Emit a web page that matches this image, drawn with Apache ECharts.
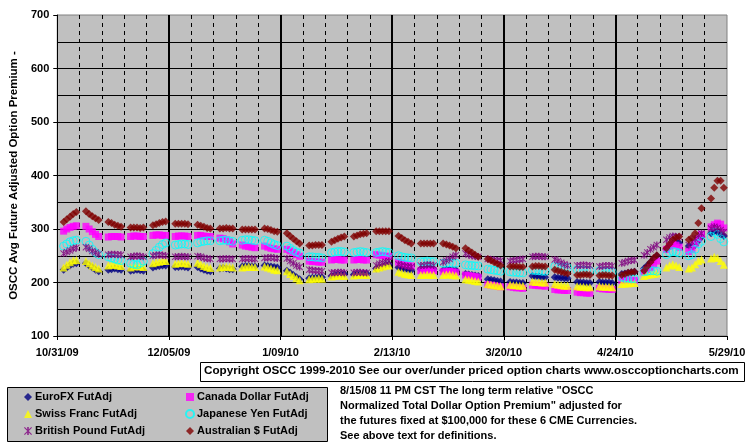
<!DOCTYPE html>
<html>
<head>
<meta charset="utf-8">
<script src="https://cdn.jsdelivr.net/npm/echarts@6/dist/echarts.min.js"></script>
<style>
  html, body { margin: 0; padding: 0; background: #fff; }
  #chart { width: 755px; height: 446px; }
</style>
</head>
<body>
<div id="chart"></div>
<script>
// x axis: days counted from 10/31/09, one label every 5 weeks
const startDate = '10/31/09'
const xTickLabels = ['10/31/09', '12/05/09', '1/09/10', '2/13/10', '3/20/10', '4/24/10', '5/29/10']
const weekCount = 30

// daily values, Mon..Fri of each week (30 weeks)
const euroFx = [
  224, 228, 232, 235, 236,  236, 232, 228, 224, 221,  224, 225, 226, 225, 224,  222, 223, 224, 223, 222,
  228, 230, 231, 232, 232,  229, 229, 230, 229, 228,  229, 226, 224, 222, 221,  226, 227, 226, 225, 225,
  230, 231, 231, 230, 230,  232, 231, 230, 229, 228,  222, 218, 214, 210, 206,  208, 209, 209, 210, 210,
  212, 214, 215, 215, 216,  215, 216, 216, 217, 217,  226, 228, 230, 233, 234,  228, 226, 225, 224, 223,
  225, 225, 226, 226, 225,  223, 224, 224, 223, 223,  216, 215, 214, 213, 212,  206, 205, 204, 203, 202,
  201, 200, 200, 199, 199,  212, 211, 211, 210, 210,  210, 209, 209, 208, 208,  201, 200, 200, 199, 199,
  201, 200, 200, 200, 199,  216, 217, 218, 219, 220,  226, 232, 238, 244, 250,  262, 268, 272, 276, 274,
  268, 266, 270, 278, 285,  292, 296, 295, 290, 287
]
const canadaDollar = [
  296, 300, 303, 305, 306,  305, 300, 295, 290, 286,  285, 286, 286, 286, 285,  286, 287, 287, 286, 286,
  288, 289, 289, 288, 288,  286, 287, 287, 287, 286,  288, 288, 287, 286, 286,  283, 282, 280, 276, 272,
  270, 268, 267, 266, 265,  268, 266, 264, 263, 262,  262, 259, 256, 252, 249,  240, 239, 239, 238, 238,
  242, 243, 243, 242, 242,  242, 243, 243, 242, 242,  252, 251, 250, 249, 249,  238, 236, 234, 232, 231,
  222, 222, 223, 222, 222,  220, 220, 221, 220, 219,  214, 213, 212, 211, 210,  196, 195, 194, 193, 192,
  192, 191, 190, 190, 189,  195, 195, 194, 194, 193,  187, 186, 186, 185, 185,  182, 181, 181, 180, 180,
  189, 188, 188, 187, 187,  204, 205, 205, 204, 204,  220, 224, 228, 234, 240,  262, 268, 272, 270, 266,
  258, 262, 272, 282, 290,  304, 308, 311, 309, 302
]
const swissFranc = [
  228, 233, 238, 241, 242,  240, 236, 232, 229, 226,  232, 233, 233, 232, 231,  228, 230, 231, 230, 229,
  236, 238, 239, 240, 240,  235, 236, 237, 236, 235,  237, 234, 231, 229, 227,  228, 229, 230, 229, 228,
  228, 229, 230, 229, 229,  230, 228, 226, 224, 223,  221, 216, 212, 208, 204,  206, 207, 207, 208, 207,
  211, 212, 213, 213, 212,  213, 214, 215, 214, 214,  226, 228, 230, 232, 232,  220, 218, 216, 215, 214,
  214, 214, 215, 214, 214,  214, 215, 215, 214, 213,  206, 205, 204, 203, 202,  197, 196, 195, 194, 193,
  196, 195, 195, 194, 194,  202, 201, 201, 200, 200,  197, 196, 195, 194, 194,  193, 192, 192, 191, 191,
  193, 192, 192, 192, 191,  197, 198, 198, 199, 199,  212, 214, 215, 216, 217,  228, 232, 234, 232, 229,
  226, 228, 234, 240, 243,  245, 248, 246, 240, 233
]
const japaneseYen = [
  268, 272, 276, 278, 279,  277, 270, 262, 256, 252,  248, 246, 244, 242, 241,  236, 234, 233, 236, 240,
  254, 260, 266, 271, 274,  270, 271, 272, 272, 271,  274, 276, 277, 278, 278,  278, 279, 279, 278, 277,
  279, 280, 280, 279, 278,  279, 277, 274, 271, 269,  268, 264, 260, 257, 255,  248, 248, 247, 247, 246,
  256, 257, 258, 258, 257,  256, 257, 258, 257, 256,  256, 257, 258, 257, 256,  250, 248, 247, 246, 246,
  239, 239, 240, 239, 239,  236, 236, 237, 236, 236,  233, 232, 232, 231, 231,  225, 224, 223, 222, 221,
  220, 219, 219, 218, 218,  223, 222, 222, 221, 221,  230, 229, 229, 228, 228,  224, 223, 223, 222, 222,
  222, 221, 221, 220, 220,  210, 208, 208, 207, 207,  220, 221, 222, 222, 221,  252, 256, 258, 257, 255,
  250, 252, 262, 272, 277,  286, 294, 290, 282, 276
]
const britishPound = [
  254, 257, 260, 263, 265,  266, 263, 259, 256, 253,  252, 253, 253, 252, 252,  248, 249, 250, 249, 248,
  250, 251, 252, 251, 250,  248, 248, 249, 248, 248,  249, 248, 246, 245, 244,  244, 244, 245, 244, 244,
  244, 245, 245, 244, 244,  246, 246, 247, 246, 245,  245, 240, 236, 232, 229,  224, 223, 222, 222, 221,
  218, 218, 219, 219, 218,  218, 219, 219, 218, 218,  232, 235, 237, 239, 240,  234, 232, 231, 230, 229,
  232, 232, 233, 233, 232,  238, 241, 244, 248, 251,  254, 252, 250, 249, 248,  244, 243, 242, 241, 241,
  240, 241, 242, 243, 244,  248, 249, 249, 248, 248,  243, 240, 237, 234, 232,  232, 232, 233, 232, 232,
  230, 231, 232, 232, 231,  236, 238, 240, 241, 242,  251, 256, 262, 266, 270,  280, 284, 287, 286, 285,
  270, 276, 282, 288, 292,  301, 304, 302, 298, 294
]
const australianDollar = [
  313, 318, 323, 328, 332,  333, 328, 324, 320, 317,  313, 311, 308, 306, 304,  303, 303, 303, 302, 303,
  307, 309, 311, 313, 314,  310, 310, 310, 310, 309,  308, 306, 304, 302, 301,  301, 301, 302, 301, 301,
  299, 299, 299, 299, 299,  301, 300, 298, 296, 295,  292, 287, 282, 277, 273,  269, 269, 270, 270, 270,
  276, 279, 282, 284, 286,  286, 288, 290, 291, 292,  296, 296, 296, 296, 296,  287, 283, 279, 276, 273,
  273, 273, 273, 273, 273,  273, 271, 269, 267, 264,  264, 260, 256, 252, 248,  244, 241, 238, 235, 232,
  230, 230, 230, 229, 229,  230, 231, 231, 230, 230,  224, 222, 220, 218, 217,  214, 214, 215, 215, 214,
  213, 214, 214, 213, 213,  214, 216, 218, 219, 220,  222, 230, 238, 246, 251,  264, 272, 280, 284, 286,
  280, 284, 292, 311, 339,  357, 377, 390, 390, 377
]

// weekday offsets (days after startDate): Mon..Fri of every week
const dayOffsets = []
for (let w = 0; w < weekCount; w++) {
  for (let d = 2; d <= 6; d++) {
    dayOffsets.push(w * 7 + d)
  }
}
function points(values) {
  return values.map((v, i) => [dayOffsets[i], v])
}

// asterisk marker for the British Pound series
const starPath = 'path://M4,0L6,0L6,10L4,10Z M0,1L1,0L10,9L9,10Z M9,0L10,1L1,10L0,9Z'

const seriesList = [
  {name: 'EuroFX FutAdj', data: euroFx, symbol: 'diamond', size: 8, color: '#000080'},
  {name: 'Canada Dollar FutAdj', data: canadaDollar, symbol: 'rect', size: 7, color: '#FF00FF'},
  {name: 'Swiss Franc FutAdj', data: swissFranc, symbol: 'triangle', size: 8, color: '#FFFF00'},
  {name: 'Japanese Yen FutAdj', data: japaneseYen, symbol: 'circle', size: 8, color: '#00FFFF', hollow: true},
  {name: 'British Pound FutAdj', data: britishPound, symbol: starPath, size: 7, color: '#800080'},
  {name: 'Australian $ FutAdj', data: australianDollar, symbol: 'diamond', size: 8, color: '#800000'}
]

const boldText = {
  color: '#000',
  fontFamily: 'Arial, "Liberation Sans", sans-serif',
  fontWeight: 'bold',
  fontSize: 11
}

const option = {
  animation: false,
  grid: {
    left: 50,
    top: 15,
    right: 28,
    bottom: 110,
    show: true,
    backgroundColor: '#C0C0C0',
    borderColor: '#808080',
    borderWidth: 1
  },
  xAxis: {
    type: 'value',
    min: 0,
    max: 210,
    interval: 35,
    axisLine: {show: true, lineStyle: {color: '#000', width: 1}},
    axisTick: {show: true, length: 4, lineStyle: {color: '#000'}},
    axisLabel: Object.assign({
      margin: 11,
      formatter: (v) => xTickLabels[Math.round(v / 35)]
    }, boldText),
    splitLine: {show: true, showMinLine: false, showMaxLine: false, lineStyle: {color: '#000', width: 2}},
    minorTick: {show: false, splitNumber: 5},
    minorSplitLine: {show: true, lineStyle: {color: '#000', width: 1, type: [4, 4]}}
  },
  yAxis: {
    type: 'value',
    min: 100,
    max: 700,
    interval: 100,
    name: 'OSCC Avg Future Adjusted Option Premium -',
    nameLocation: 'middle',
    nameGap: 37,
    nameRotate: 90,
    nameTextStyle: Object.assign({}, boldText, {fontSize: 11.5}),
    axisLine: {show: true, lineStyle: {color: '#000', width: 1}},
    axisTick: {show: true, length: 4, lineStyle: {color: '#000'}},
    axisLabel: Object.assign({margin: 8}, boldText),
    splitLine: {show: true, showMinLine: false, showMaxLine: false, lineStyle: {color: '#000', width: 1}},
    minorTick: {show: false, splitNumber: 2},
    minorSplitLine: {show: true, lineStyle: {color: '#000', width: 1}}
  },
  legend: [
    {
      orient: 'vertical',
      left: 24,
      top: 390,
      padding: 0,
      itemGap: 3,
      itemWidth: 8,
      itemHeight: 8,
      textStyle: Object.assign({lineHeight: 14, padding: [0, 0, 0, -2]}, boldText),
      data: ['EuroFX FutAdj', 'Swiss Franc FutAdj', 'British Pound FutAdj']
    },
    {
      orient: 'vertical',
      left: 185,
      top: 390,
      padding: 0,
      itemGap: 3,
      itemWidth: 8,
      itemHeight: 8,
      textStyle: Object.assign({lineHeight: 14, padding: [0, 0, 0, -2]}, boldText),
      data: ['Canada Dollar FutAdj', 'Japanese Yen FutAdj', 'Australian $ FutAdj']
    }
  ],
  graphic: [
    {
      type: 'rect',
      z: -1,
      shape: {x: 7.5, y: 387.5, width: 320, height: 54},
      style: {fill: '#C0C0C0', stroke: '#000', lineWidth: 1}
    },
    {
      type: 'rect',
      shape: {x: 200.5, y: 362.5, width: 544, height: 19},
      style: {fill: '#fff', stroke: '#000', lineWidth: 1}
    },
    {
      type: 'text',
      left: 204,
      top: 365,
      style: {
        text: 'Copyright OSCC 1999-2010 See our over/under priced option charts www.osccoptioncharts.com',
        fill: '#000',
        font: 'bold 11.7px Arial, "Liberation Sans", sans-serif'
      }
    },
    {
      type: 'text',
      left: 340,
      top: 383,
      style: {
        text: '8/15/08 11 PM CST The long term relative "OSCC\nNormalized Total Dollar Option Premium" adjusted for\nthe futures fixed at $100,000 for these 6 CME Currencies.\nSee above text for definitions.',
        fill: '#000',
        font: 'bold 11px Arial, "Liberation Sans", sans-serif',
        lineHeight: 15
      }
    }
  ],
  series: seriesList.map(s => ({
    name: s.name,
    type: 'scatter',
    symbol: s.symbol,
    symbolSize: s.size,
    data: points(s.data),
    itemStyle: s.hollow
      ? {color: 'rgba(0,0,0,0)', borderColor: s.color, borderWidth: 1}
      : {color: s.color},
    emphasis: {disabled: true}
  }))
}

const myChart = echarts.init(document.getElementById('chart'))
myChart.setOption(option)
</script>
</body>
</html>
